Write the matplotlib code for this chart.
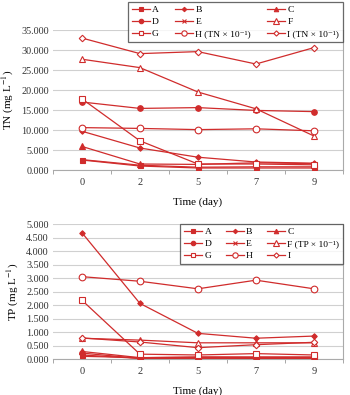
import numpy as np
import matplotlib
matplotlib.use("Agg")
import matplotlib.pyplot as plt

plt.rcParams['font.family'] = ['Liberation Serif', 'DejaVu Serif']
plt.rcParams['mathtext.fontset'] = 'stix'

days = ['0', '2', '5', '7', '9']

# TN (mg/L) ; H and I are TN x 10^-1
tn = {
    'A': [2.6, 1.2, 0.7, 0.8, 0.8],
    'B': [9.7, 5.5, 3.2, 2.0, 1.7],
    'C': [5.9, 1.5, 1.4, 1.8, 1.6],
    'D': [17.0, 15.4, 15.6, 14.9, 14.6],
    'E': [2.5, 1.0, 0.5, 0.5, 0.5],
    'F': [27.7, 25.6, 19.5, 15.3, 8.5],
    'G': [17.8, 7.3, 1.5, 1.5, 1.3],
    'H': [10.6, 10.4, 10.1, 10.3, 9.8],
    'I': [33.0, 29.1, 29.6, 26.5, 30.6],
}
# TP (mg/L) ; F is TP x 10^-1
tp = {
    'A': [0.15, 0.02, 0.03, 0.02, 0.02],
    'B': [4.68, 2.06, 0.95, 0.77, 0.85],
    'C': [0.28, 0.05, 0.06, 0.05, 0.05],
    'D': [0.22, 0.02, 0.03, 0.03, 0.03],
    'E': [0.10, 0.05, 0.08, 0.08, 0.08],
    'F': [0.77, 0.70, 0.60, 0.60, 0.60],
    'G': [2.18, 0.18, 0.15, 0.20, 0.15],
    'H': [3.05, 2.88, 2.60, 2.92, 2.60],
    'I': [0.78, 0.63, 0.42, 0.53, 0.62],
}

# plain unicode superscripts keep every legend row the same height
tn_labels = {'H': 'H (TN × 10⁻¹)', 'I': 'I (TN × 10⁻¹)'}
tp_labels = {'F': 'F (TP × 10⁻¹)'}

red = '#d02c2c'
# marker, size, filled
styles = {
    'A': ('s', 3.6, True),
    'B': ('D', 2.8, True),
    'C': ('^', 4.0, True),
    'D': ('o', 4.0, True),
    'E': ('x', 3.2, True),
    'F': ('^', 4.8, False),
    'G': ('s', 4.2, False),
    'H': ('o', 4.8, False),
    'I': ('D', 3.3, False),
}
order = ['A', 'B', 'C', 'D', 'E', 'F', 'G', 'H', 'I']
# legend is filled column by column, so this gives rows A B C / D E F / G H I
leg_order = ['A', 'D', 'G', 'B', 'E', 'H', 'C', 'F', 'I']

fig = plt.figure(figsize=(3.5, 3.95), dpi=100)
ax1 = fig.add_axes([0.151, 0.5696, 0.829, 0.3544])
ax2 = fig.add_axes([0.151, 0.0911, 0.829, 0.3418])

x = np.arange(len(days))


def draw(ax, data, labels, ymax, ystep, ylabel):
    lines = {}
    for k in order:
        m, ms, filled = styles[k]
        lines[k], = ax.plot(x, data[k], color=red, lw=0.9, marker=m, ms=ms,
                            mfc=red if filled else 'white', mec=red, mew=0.8,
                            label=labels.get(k, k), zorder=3)
    ax.set_xlim(-0.5, len(days) - 0.5)
    ax.set_ylim(0, ymax)
    ticks = np.arange(0, ymax + 0.001, ystep)
    ax.set_yticks(ticks)
    ax.set_yticklabels(['%.3f' % v for v in ticks])
    ax.set_xticks(x)
    ax.set_xticklabels(days)
    ax.set_xticks(np.arange(-0.5, len(days)), minor=True)
    ax.tick_params(axis='x', which='major', length=0, labelsize=7.5, pad=6)
    ax.tick_params(axis='x', which='minor', length=3, color='#999999')
    ax.tick_params(axis='y', length=0, labelsize=7.3, pad=3, colors='#333333')
    ax.tick_params(axis='x', colors='#333333')
    ax.grid(axis='y', color='#d0d0d0', lw=0.8)
    ax.set_axisbelow(True)
    for s in ['top', 'left']:
        ax.spines[s].set_visible(False)
    for s in ['bottom', 'right']:
        ax.spines[s].set_color('#aaaaaa')
        ax.spines[s].set_linewidth(0.8)
    ax.set_ylabel(ylabel, fontsize=8, labelpad=4)
    return [lines[k] for k in leg_order]


h1 = draw(ax1, tn, tn_labels, 35, 5, r'TN (mg L$^{-1}$)')
h2 = draw(ax2, tp, tp_labels, 5, 0.5, r'TP (mg L$^{-1}$)')
ax1.set_xlabel('Time (day)', fontsize=8, labelpad=7)
ax2.set_xlabel('Time (day)', fontsize=8, labelpad=7)

leg_kw = dict(ncol=3, loc='upper right', fontsize=6.8, frameon=True,
              fancybox=False, handlelength=1.9, handletextpad=0.25,
              labelspacing=0.35, borderpad=0.4, borderaxespad=0,
              markerscale=0.8)

leg1 = ax1.legend(handles=h1, bbox_to_anchor=(0.98, 0.995),
                  bbox_transform=fig.transFigure, columnspacing=1.7, **leg_kw)
leg2 = ax2.legend(handles=h2, bbox_to_anchor=(1.0, 1.0),
                  columnspacing=1.5, **leg_kw)
for leg in (leg1, leg2):
    leg.get_frame().set_edgecolor('#444444')
    leg.get_frame().set_linewidth(0.9)

fig.savefig('out.png', dpi=100)
